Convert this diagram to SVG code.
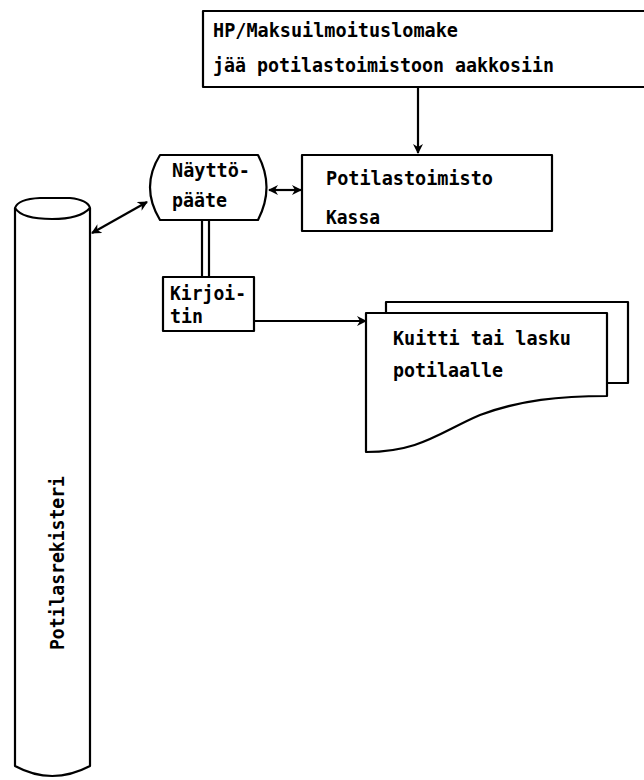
<svg xmlns="http://www.w3.org/2000/svg" width="644" height="780" viewBox="0 0 644 780">
<style>
.s{fill:#fff;stroke:#000;stroke-width:2.2;stroke-linejoin:round}
.l{fill:none;stroke:#000;stroke-width:2.2}
.t{font-family:"DejaVu Sans Mono","Liberation Mono",monospace;font-size:19px;font-weight:bold;fill:#000}
</style>
<defs>
<marker id="a" viewBox="0 0 10 10" refX="9" refY="5" markerWidth="10" markerHeight="10" markerUnits="userSpaceOnUse" orient="auto-start-reverse">
<path d="M0,0 L10,5 L0,10 L3,5 z" fill="#000"/>
</marker>
</defs>
<g id="connectors">
<line class="l" x1="418" y1="87" x2="418" y2="153" marker-end="url(#a)"/>
<line class="l" x1="269" y1="190" x2="301" y2="190" marker-start="url(#a)" marker-end="url(#a)"/>
<line class="l" x1="92" y1="233" x2="147" y2="202" marker-start="url(#a)" marker-end="url(#a)"/>
<line class="l" x1="202" y1="220" x2="202" y2="277"/>
<line class="l" x1="209" y1="220" x2="209" y2="277"/>
<line class="l" x1="254" y1="321" x2="366" y2="321" marker-end="url(#a)"/>
</g>
<g id="lomake">
<rect class="s" x="203" y="11" width="445" height="76"/>
<text class="t" x="213" y="37" textLength="245" lengthAdjust="spacingAndGlyphs">HP/Maksuilmoituslomake</text>
<text class="t" x="213" y="72" textLength="341" lengthAdjust="spacingAndGlyphs">jää potilastoimistoon aakkosiin</text>
</g>
<g id="potilastoimisto">
<rect class="s" x="302" y="155" width="250" height="76"/>
<text class="t" x="326" y="185" textLength="167" lengthAdjust="spacingAndGlyphs">Potilastoimisto</text>
<text class="t" x="326" y="224" textLength="54" lengthAdjust="spacingAndGlyphs">Kassa</text>
</g>
<g id="nayttopaate">
<path class="s" d="M160,155 L258,155 Q275,187 258,220 L160,220 Q140,187 160,155 z"/>
<text class="t" x="172" y="177" textLength="78" lengthAdjust="spacingAndGlyphs">Näyttö-</text>
<text class="t" x="172" y="207" textLength="55" lengthAdjust="spacingAndGlyphs">pääte</text>
</g>
<g id="kirjoitin">
<rect class="s" x="163" y="277" width="91" height="54"/>
<text class="t" x="170" y="300" textLength="76" lengthAdjust="spacingAndGlyphs">Kirjoi-</text>
<text class="t" x="170" y="323" textLength="33" lengthAdjust="spacingAndGlyphs">tin</text>
</g>
<g id="kuitti">
<path class="s" d="M386,313 L386,302 L628,302 L628,383 L607,383"/>
<path class="s" d="M366,313 L607,313 L607,396 C560,396 520,400 480,415 C440,432 420,452 366,452 z"/>
<text class="t" x="393" y="345" textLength="178" lengthAdjust="spacingAndGlyphs">Kuitti tai lasku</text>
<text class="t" x="393" y="377" textLength="110" lengthAdjust="spacingAndGlyphs">potilaalle</text>
</g>
<g id="potilasrekisteri">
<path class="s" d="M15,208 L15,766 Q52,786 90,766 L90,208"/>
<path class="s" d="M15,208 Q18,199 40,198 L70,198 Q88,200 90,208 Q80,219 52,219 Q22,219 15,208 z"/>
<text class="t" transform="translate(64,650) rotate(-90)" textLength="174" lengthAdjust="spacingAndGlyphs">Potilasrekisteri</text>
</g>
</svg>
